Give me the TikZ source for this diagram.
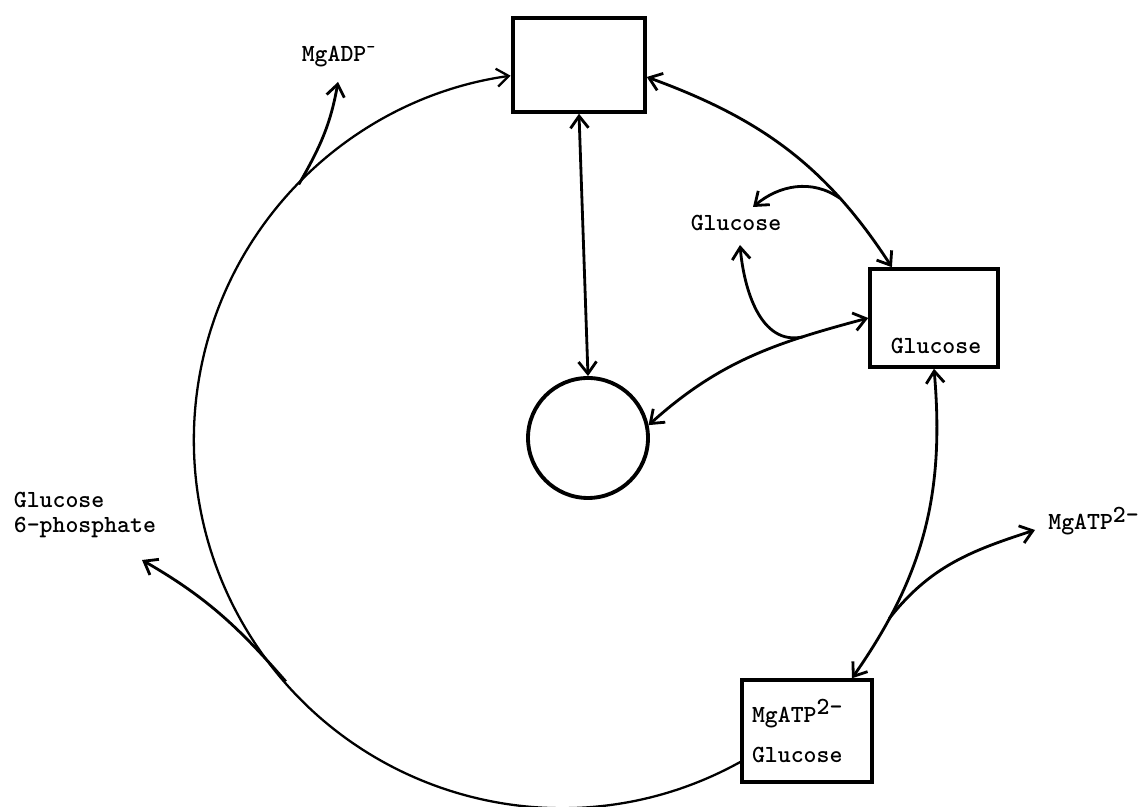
\documentclass[tikz,border=0pt]{standalone}
\usepackage{tikz}
\usetikzlibrary{arrows.meta, calc, positioning}

\begin{document}
\begin{tikzpicture}[
  >={Straight Barb[length=2.4mm,width=3.6mm]},
  lbl/.style={font=\ttfamily\bfseries\fontsize{14}{17}\selectfont, inner sep=2pt},
  box/.style={draw, line width=2pt},
  link/.style={line width=1.6pt}
]
\useasboundingbox (0,0) rectangle (22.92,16.14);

% enzyme forms
\node[box, minimum width=2.64cm, minimum height=1.88cm] (enz) at (11.58,14.84) {};
\node[draw, circle, line width=2.2pt, minimum size=2.4cm] (ecirc) at (11.76,7.38) {};
\node[box, minimum width=2.56cm, minimum height=1.96cm] (eglc) at (18.68,9.78) {};
\node[lbl] (eglctxt) at (18.72,9.22) {Glucose};
\node[box, minimum width=2.6cm, minimum height=2.04cm, text width=2.2cm, align=left,
  font=\ttfamily\bfseries\fontsize{14}{23}\selectfont] (mgglc) at (16.14,1.52) {MgATP\raisebox{0.7ex}{2-}\\Glucose};

% free ligands
\node[lbl] (adp) at (6.78,15.0) {MgADP\textsuperscript{-}};
\node[lbl] (glcfree) at (14.72,11.68) {Glucose};
\node[lbl, anchor=base west] (atpfree) at (20.89,5.54) {MgATP\raisebox{0.7ex}{2-}};
\node[lbl, anchor=west, align=left, font=\ttfamily\bfseries\fontsize{14}{14.7}\selectfont] (g6p) at (0.2,5.84) {Glucose\\6-phosphate};

\coordinate (adptip) at (6.76,14.5);
\coordinate (glctipa) at (15.06,12.0);
\coordinate (glctipb) at (14.8,11.24);
\coordinate (atptip) at (20.7,5.54);
\coordinate (g6ptip) at (2.84,4.94);

% catalytic loop
\coordinate (loopc) at (11.27,7.34);
\draw[line width=1.3pt, ->] ([yshift=-0.62cm]mgglc.west) arc[start angle=-61, end angle=-262, radius=7.36cm];
\draw[link, ->] ($(loopc)+(136:7.36)$) to[out=60, in=-100] (adptip);
\draw[link, ->] ($(loopc)+(221:7.36)$) to[out=131, in=-30] (g6ptip);

% binding steps
\draw[link, <->] (enz.south) -- (ecirc.north);
\draw[link, <->] ([yshift=-0.24cm]enz.east) to[out=-20, in=123] coordinate[pos=0.74] (jglca)
  ($(eglc.north west)!0.18!(eglc.north east)$);
\draw[link, ->] (jglca) to[out=145, in=40] (glctipa);
\draw[link, <->] (ecirc.12) to[out=42, in=195] coordinate[pos=0.74] (jglcb) (eglc.west);
\draw[link, ->] (jglcb) to[out=192, in=-85] (glctipb);
\draw[link, <->] (eglc.south) to[out=-85, in=55] coordinate[pos=0.8] (jatp) ([xshift=0.9cm]mgglc.north);
\draw[link, ->] (jatp) to[out=52, in=198] (atptip);
\end{tikzpicture}
\end{document}
